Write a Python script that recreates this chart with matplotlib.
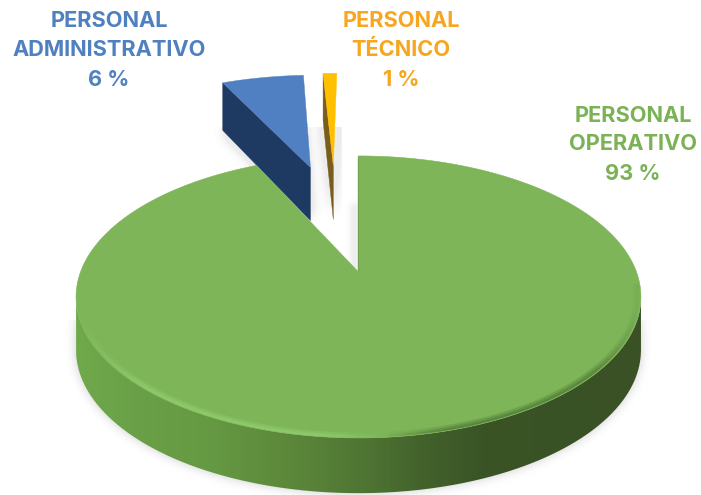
import numpy as np
import matplotlib
matplotlib.use("Agg")
import matplotlib.pyplot as plt
from matplotlib.patches import Polygon, PathPatch
from matplotlib.path import Path
from matplotlib.collections import LineCollection
from matplotlib.colors import LinearSegmentedColormap, to_rgb

# ---- data ----
categories = ["PERSONAL\nOPERATIVO", "PERSONAL\nADMINISTRATIVO", "PERSONAL\nTÉCNICO"]
values = [93, 6, 1]
label_pcts = ["93 %", "6 %", "1 %"]

# ---- style / layout ----
W, H = 701, 495
X0, Y0 = 358.5, 272.0
B, A, P = 278.0, 136.6, 0.177
face_colors = ["#7DB558", "#5080C1", "#FFC000"]
side_colors = [None, "#1E3A62", "#7A5C1C"]
text_colors = ["#7BB256", "#4F80BF", "#F8A61F"]
slice_offsets = [(0.0, 0.0), (-0.20, 0.885), (-0.105, 0.90)]
slice_radius = [1.0, 1.05, 1.06]
apex_extra_depth = [0, 3.0, 3.5]
label_xy = [(633, [116.5, 144.5, 173.5]), (109, [21, 50, 80]), (401, [21, 50, 80])]
FONT = ["Inter", "Open Sans", "DejaVu Sans"]


def project(u, v):
    den = 1 + P * np.asarray(v)
    return X0 + B * np.asarray(u) / den, Y0 - A * np.asarray(v) / den


def depth(v):
    return 52.5 - 2.7 * np.asarray(v)


def slice_geom(a0, a1, off, r=1.0, n=200):
    t = np.radians(np.linspace(a0, a1, n))
    return r * np.sin(t) + off[0], r * np.cos(t) + off[1]


def raster(pts):
    yy, xx = np.mgrid[0:H, 0:W]
    grid = np.c_[xx.ravel() + .5, yy.ravel() + .5]
    return Path(pts).contains_points(grid).reshape(H, W).astype(float)


def blur(img, s):
    r = int(3 * s)
    k = np.exp(-0.5 * (np.arange(-r, r + 1) / s) ** 2)
    k /= k.sum()
    pad = np.pad(img, r, mode="edge")
    out = np.array([np.convolve(row, k, mode="same") for row in pad])
    out = np.array([np.convolve(col, k, mode="same") for col in out.T]).T
    return out[r:-r, r:-r]


fig = plt.figure(figsize=(W / 100, H / 100), dpi=100)
ax = fig.add_axes([0, 0, 1, 1])
ax.set_axis_off()

fracs = np.array(values) / sum(values) * 360
starts = np.r_[0, np.cumsum(fracs)[:-1]]
ends = np.cumsum(fracs)

geoms = []
for i in range(3):
    off = slice_offsets[i]
    u, v = slice_geom(starts[i], ends[i], off, slice_radius[i])
    ax_, ay_ = project(np.array([off[0]]), np.array([off[1]]))
    x, y = project(u, v)
    geoms.append(dict(x=x, y=y, apex=(ax_[0], ay_[0]), off=off, v=v))

# front side band of the green disc
t = np.radians(np.linspace(0, 360, 1441))
cu, cv = np.sin(t), np.cos(t)
cx, cy = project(cu, cv)
il, ir = np.argmin(cx), np.argmax(cx)
idx = np.arange(ir, il + 1)
fx, fy = cx[idx], cy[idx]
fd = depth(cv[idx])
side_poly = np.r_[np.c_[fx, fy], np.c_[fx, fy + fd][::-1]]

# ---- shadows ----
sh = blur(raster(side_poly), 5.0) * 0.30
yy, xx = np.mgrid[0:H, 0:W]
sh[yy < 320] = 0
g1, g2 = geoms[1], geoms[2]
m = raster(np.r_[np.c_[g1["x"], g1["y"] + depth(g1["v"])], [[g1["apex"][0], g1["apex"][1] + 50]]])
m = np.maximum(m, raster(np.r_[np.c_[g2["x"], g2["y"] + depth(g2["v"])], [[g2["apex"][0], g2["apex"][1] + 50]]]))
s2 = blur(m, 6.0) * 0.5
s2[yy < 127] = 0
s2[yy > 224] = 0
s2[xx > 341] = 0
s2 = np.minimum(s2, 0.11)
notch = np.zeros((H, W))
notch[203:272, 351:358] = 1
s3 = blur(notch, 3.0) * 0.14
alpha = np.clip(np.maximum(np.maximum(sh, s2), s3), 0, 1)
rgba = np.zeros((H, W, 4))
rgba[..., :3] = 0.35
rgba[..., 3] = alpha
ax.imshow(rgba, extent=(0, W, H, 0), aspect="auto", zorder=1, interpolation="bilinear")

# ---- exploded slices ----
for i in (1, 2):
    g = geoms[i]
    ap = np.array(g["apex"])
    corner = np.array([g["x"][0], g["y"][0]])
    d_corner = depth(g["v"][0])
    d_ap = depth(g["off"][1]) + apex_extra_depth[i]
    cut = [corner, ap, ap + [0, d_ap], corner + [0, d_corner]]
    ax.add_patch(Polygon(cut, closed=True, fc=side_colors[i], ec=side_colors[i], lw=0.3, zorder=2 + i))
    ax.add_patch(Polygon(np.r_[[ap], np.c_[g["x"], g["y"]]], closed=True,
                         fc=face_colors[i], ec=face_colors[i], lw=0.3, zorder=2.5 + i))

# ---- green side with a horizontal gradient ----
side_cmap = LinearSegmentedColormap.from_list(
    "side",
    [(0.0, "#6FA94B"), (0.12, "#699F47"), (0.25, "#659842"), (0.40, "#5A8539"),
     (0.52, "#4E7333"), (0.62, "#42612B"), (0.72, "#3A5426"), (1.0, "#395125")])
grad = np.linspace(0, 1, 600).reshape(1, -1)
im = ax.imshow(grad, cmap=side_cmap, vmin=0, vmax=1, extent=(fx.min(), fx.max(), H, 0),
               aspect="auto", zorder=6, interpolation="bilinear")
clip = PathPatch(Path(side_poly), transform=ax.transData, fc="none", ec="none")
ax.add_patch(clip)
im.set_clip_path(clip)

# ---- green top face ----
g = geoms[0]
top = np.r_[[g["apex"]], np.c_[g["x"], g["y"]]]
ax.add_patch(Polygon(top, closed=True, fc=face_colors[0], ec=face_colors[0], lw=0.4, zorder=7))

# bevel along the front rim, soft and inside the face
tt = np.radians(np.linspace(95, 265, 500))
for scale, lw, al in [(0.983, 3.2, 0.4), (0.989, 2.2, 0.55), (0.994, 1.3, 0.75)]:
    bx, by = project(scale * np.sin(tt), scale * np.cos(tt))
    pts = np.c_[bx, by]
    segs = np.stack([pts[:-1], pts[1:]], axis=1)
    pos = (bx[:-1] - fx.min()) / (fx.max() - fx.min())
    cols = np.zeros((len(pos), 4))
    light = np.array(to_rgb("#90CE6E"))
    dark = np.array(to_rgb("#507A36"))
    w = (pos > 0.55).astype(float)[:, None]
    cols[:, :3] = light * (1 - w) + dark * w
    fade_left = np.clip(pos / 0.12, 0, 1) * np.clip((0.55 - pos) / 0.12, 0, 1)
    fade_right = np.clip((pos - 0.55) / 0.12, 0, 1) * np.clip((1 - pos) / 0.08, 0, 1)
    cols[:, 3] = al * (fade_left + 0.8 * fade_right)
    ax.add_collection(LineCollection(segs, colors=cols, linewidths=lw, zorder=8, capstyle="butt"))

# thin dark line on the right cut of the green wedge
ex, ey = project(np.array([0.0, 0.0]), np.array([1.0, 0.0]))
ax.plot(ex - 0.5, ey, color="#4C6B35", lw=0.9, zorder=6.5, solid_capstyle="butt")

# ---- labels ----
for name, pct, col, (lx, lys) in zip(categories, label_pcts, text_colors, label_xy):
    lines = name.split("\n") + [pct]
    for ly, s in zip(lys, lines):
        ax.text(lx, ly, s, color=col, fontsize=15.7, fontweight="bold",
                family=FONT, ha="center", va="center", zorder=10)

ax.set_xlim(0, W)
ax.set_ylim(H, 0)
fig.savefig("out.png", dpi=100, facecolor="white")
